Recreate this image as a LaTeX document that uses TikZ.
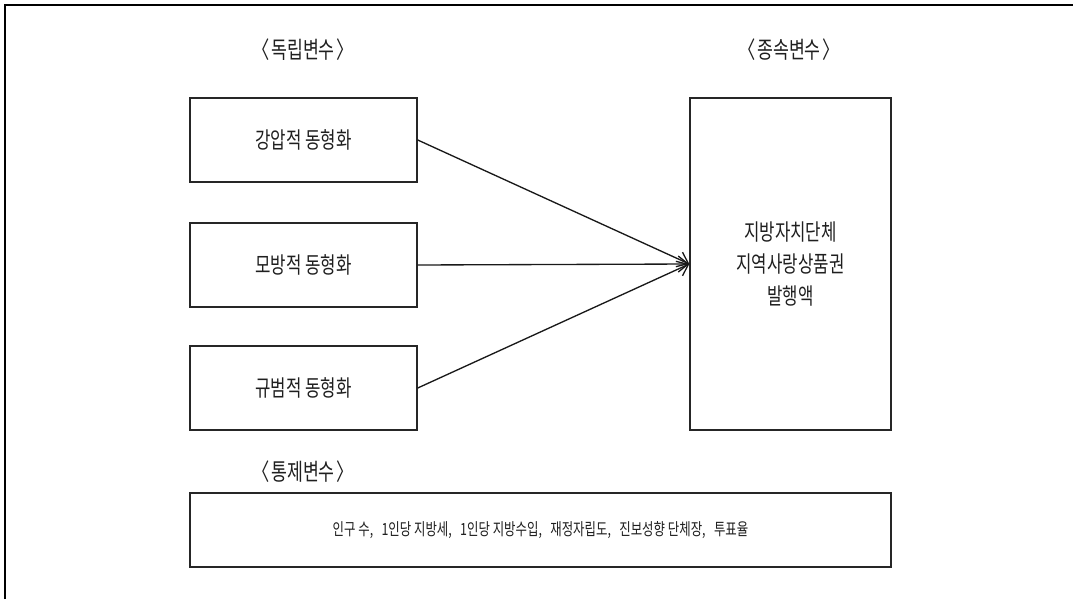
\documentclass[tikz,border=0pt]{standalone}
\usepackage{fontspec}
\setmainfont{Noto Sans CJK KR}[FakeStretch=0.74]
\usetikzlibrary{arrows.meta}
\begin{document}
\begin{tikzpicture}[x=0.75pt,y=-0.75pt,
  box/.style={draw=black!85,line width=1.1pt,rectangle,inner sep=0pt,align=center,font=\fontsize{17}{24}\selectfont,text=black!88},
  hdr/.style={inner sep=0pt,font=\fontsize{17.5}{20}\selectfont,text=black!88},
  conn/.style={draw=black!90,line width=1pt,-{Straight Barb[length=7.5pt,width=12pt,line width=1pt]}},
  frame/.style={draw=black,line width=1.6pt}]
\useasboundingbox (0,0) rectangle (1073,599);
\draw[frame] (5,599) -- (5,5) -- (1073,5);
\node[hdr] (hi) at (303,50) {〈\kern1pt 독립변수\kern1pt 〉};
\node[hdr] (hd) at (789,50) {〈\kern1pt 종속변수\kern1pt 〉};
\node[hdr] (hc) at (303,472) {〈\kern1pt 통제변수\kern1pt 〉};
\node[box,minimum width=170.25pt,minimum height=63pt] (b1) at (303.5,140) {강압적 동형화};
\node[box,minimum width=170.25pt,minimum height=63pt] (b2) at (303.5,265) {모방적 동형화};
\node[box,minimum width=170.25pt,minimum height=63pt] (b3) at (303.5,388) {규범적 동형화};
\node[box,minimum width=150.75pt,minimum height=249pt] (dep) at (790.5,264) {지방자치단체\\지역사랑상품권\\발행액};
\node[box,minimum width=525.75pt,minimum height=55.5pt,font=\fontsize{12.6}{16}\selectfont] (ctl) at (540.5,530) {인구 수,\ \ \ 1인당 지방세,\ \ \ 1인당 지방수입,\ \ \ 재정자립도,\ \ \ 진보성향 단체장,\ \ \ 투표율};
\draw[conn] (b1.east) -- (dep.west);
\draw[conn] (b2.east) -- (dep.west);
\draw[conn] (b3.east) -- (dep.west);
\end{tikzpicture}
\end{document}
